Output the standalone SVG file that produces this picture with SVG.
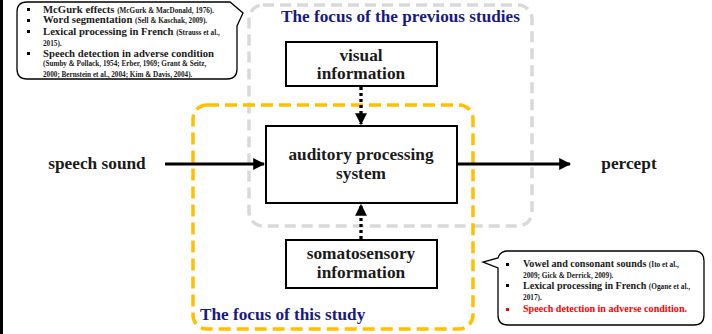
<svg xmlns="http://www.w3.org/2000/svg" width="712" height="334" viewBox="0 0 712 334">
<defs>
<style>
text{font-family:"Liberation Serif","Times New Roman",serif;font-weight:bold;fill:#1a1a1a}
.main{font-size:17.3px;text-anchor:middle}
.title{font-size:17.2px;fill:#1a1a80}
.b1{font-size:10.7px}
.c1{font-size:7.2px}
.b2{font-size:10.1px}
.c2{font-size:7.3px}
.box{fill:#fff;stroke:#000;stroke-width:2}
.bubble{fill:#fff;stroke:#000;stroke-width:1.3}
</style>
<marker id="ah" viewBox="0 0 10 10" refX="9" refY="5" markerWidth="4" markerHeight="4" orient="auto" markerUnits="strokeWidth">
<path d="M0,0 L10,5 L0,10 z" fill="#000"/>
</marker>
<marker id="ahd" viewBox="0 0 10 10" refX="9" refY="5" markerWidth="3.6" markerHeight="3.6" orient="auto" markerUnits="strokeWidth">
<path d="M0,0 L10,5 L0,10 z" fill="#000"/>
</marker>
</defs>
<rect width="712" height="334" fill="#fff"/>
<line x1="1.5" y1="0" x2="1.5" y2="334" stroke="#000" stroke-width="3"/>

<g id="region-previous">
<rect x="249" y="5" width="283" height="221" rx="14" fill="none" stroke="#d9d9d9" stroke-width="3.5" stroke-dasharray="11 6"/>
<text class="title" x="281" y="22">The focus of the previous studies</text>
</g>
<g id="region-this">
<rect x="193" y="105" width="280" height="224" rx="14" fill="none" stroke="#ffc000" stroke-width="3.5" stroke-dasharray="12 6"/>
<text class="title" x="200" y="320">The focus of this study</text>
</g>

<g id="connectors">
<line x1="165" y1="164" x2="264" y2="164" stroke="#000" stroke-width="3" marker-end="url(#ah)"/>
<line x1="457" y1="164" x2="570" y2="164" stroke="#000" stroke-width="3" marker-end="url(#ah)"/>
<line x1="361" y1="87" x2="361" y2="124" stroke="#000" stroke-width="3.3" stroke-dasharray="3 3" marker-end="url(#ahd)"/>
<line x1="361" y1="239" x2="361" y2="205" stroke="#000" stroke-width="3.3" stroke-dasharray="3 3" marker-end="url(#ahd)"/>
</g>

<g id="visual">
<rect class="box" x="286" y="42" width="151" height="44"/>
<text class="main" x="361" y="61">visual</text>
<text class="main" x="361" y="79">information</text>
</g>
<g id="auditory">
<rect class="box" x="266" y="126" width="191" height="77" stroke-width="4"/>
<text class="main" x="361" y="160">auditory processing</text>
<text class="main" x="361" y="179">system</text>
</g>
<g id="somatosensory">
<rect class="box" x="286" y="240" width="151" height="48"/>
<text class="main" x="361" y="259">somatosensory</text>
<text class="main" x="361" y="278">information</text>
</g>
<g id="speech-sound">
<text class="main" x="97" y="169">speech sound</text>
</g>
<g id="percept">
<text class="main" x="629" y="169">percept</text>
</g>

<g id="callout-previous">
<path class="bubble" d="M27,2 H230 L243,13 L237,26 V69 Q237,79 227,79 H27 Q17,79 17,69 V12 Q17,2 27,2 Z"/>
<rect x="27" y="8" width="3" height="3" fill="#000"/>
<rect x="27" y="19" width="3" height="3" fill="#000"/>
<rect x="27" y="30" width="3" height="3" fill="#000"/>
<rect x="27" y="52" width="3" height="3" fill="#000"/>
<text x="43" y="12.5"><tspan class="b1">McGurk effects </tspan><tspan class="c1">(McGurk &amp; MacDonald, 1976).</tspan></text>
<text x="43" y="23"><tspan class="b1">Word segmentation </tspan><tspan class="c1">(Sell &amp; Kaschak, 2009).</tspan></text>
<text x="43" y="34.5"><tspan class="b1">Lexical processing in French </tspan><tspan class="c1">(Strauss et al.,</tspan></text>
<text x="43" y="46" class="c1">2015).</text>
<text x="43" y="57" class="b1">Speech detection in adverse condition</text>
<text x="43" y="66" class="c1">(Sumby &amp; Pollack, 1954; Erber, 1969; Grant &amp; Seitz,</text>
<text x="43" y="77" class="c1">2000; Bernstein et al., 2004; Kim &amp; Davis, 2004).</text>
</g>

<g id="callout-this">
<path class="bubble" d="M508,251 H694 Q704,251 704,261 V315 Q704,325 694,325 H508 Q498,325 498,315 V268 L483,262 L498,258 Q500,251 508,251 Z"/>
<rect x="506" y="263" width="3" height="3" fill="#000"/>
<rect x="506" y="284" width="3" height="3" fill="#000"/>
<rect x="506" y="308" width="3" height="3" fill="#f00"/>
<text x="523" y="267"><tspan class="b2">Vowel and consonant sounds </tspan><tspan class="c2">(Ito et al.,</tspan></text>
<text x="523" y="278" class="c2">2009; Gick &amp; Derrick, 2009).</text>
<text x="523" y="289"><tspan class="b2">Lexical processing in French </tspan><tspan class="c2">(Ogane et al.,</tspan></text>
<text x="523" y="300" class="c2">2017).</text>
<text x="523" y="312" class="b2" style="fill:#ff0000">Speech detection in adverse condition.</text>
</g>
</svg>
